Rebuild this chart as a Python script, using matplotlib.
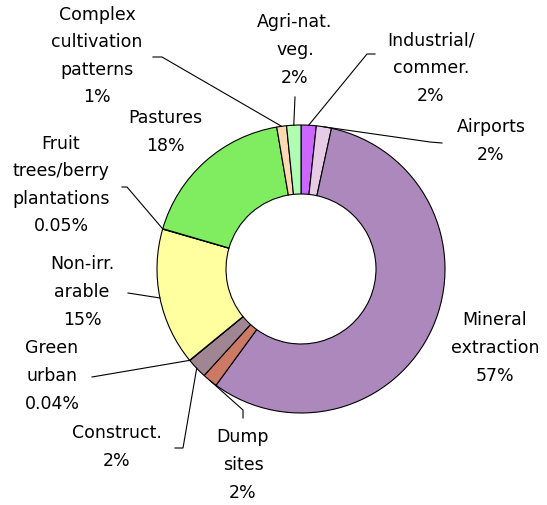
import numpy as np
import matplotlib
matplotlib.use("Agg")
import matplotlib.pyplot as plt

# Land cover shares (% of total), clockwise from 12 o'clock
categories = ["Industrial/\ncommer.", "Airports", "Mineral\nextraction", "Dump\nsites",
              "Construct.", "Green\nurban", "Non-irr.\narable", "Fruit\ntrees/berry\nplantations",
              "Pastures", "Complex\ncultivation\npatterns", "Agri-nat.\nveg."]
values = [1.7, 1.7, 56.7, 1.7, 2.3, 0.04, 15.4, 0.05, 17.8, 1.1, 1.6]
colors = ["#CC66FF", "#E6CCE6", "#AD88BD", "#CC7A66", "#A08592", "#FF88FF",
          "#FFFFA0", "#FF6666", "#80EC60", "#FFD9B3", "#B0FFB0"]

W, H = 547, 505
fig = plt.figure(figsize=(W / 100, H / 100), dpi=100)
ax = fig.add_axes([0, 0, 1, 1])

cx, cy_px, R, ring = 301, 269, 144, 69
cy = H - cy_px

wedges, _ = ax.pie(values, colors=colors, startangle=90, counterclock=False,
                   center=(cx, cy), radius=R, frame=True,
                   wedgeprops=dict(width=ring, edgecolor="black", linewidth=0.8))
ax.set_xlim(0, W)
ax.set_ylim(0, H)
ax.set_aspect("equal")
ax.axis("off")

total = sum(values)


def pct_text(v):
    p = v / total * 100
    return f"{p:.2f}%" if p < 0.5 else f"{p:.0f}%"


# label block centres (pixel coords, y down) and leader elbows
label_pos = [(431, 68), (491, 141), (495, 348), (243, 465), (117, 447), (52, 376),
             (82, 292), (61, 185), (165, 132), (97, 56), (295, 50)]
leaders = [[(375, 54), (367, 54)], [(442, 143), (430, 142)], None, [(243, 418), (243, 410)],
           [(175, 448), (183, 448)], [(92, 377)], [(128, 293)], [(122, 187), (127, 187)],
           None, [(153, 57), (162, 57)], [(295, 97)]]

for w, name, v, (tx, ty), lead in zip(wedges, categories, values, label_pos, leaders):
    ax.text(tx, H - ty, f"{name}\n{pct_text(v)}", ha="center", va="center",
            multialignment="center", fontsize=12.5, linespacing=1.68,
            family="DejaVu Sans", color="black")
    if lead is not None:
        mid = np.deg2rad((w.theta1 + w.theta2) / 2)
        ex, ey = cx + R * np.cos(mid), cy + R * np.sin(mid)
        xs = [p[0] for p in lead] + [ex]
        ys = [H - p[1] for p in lead] + [ey]
        ax.plot(xs, ys, color="black", linewidth=0.8)

fig.savefig("out.png", dpi=100, facecolor="white")
